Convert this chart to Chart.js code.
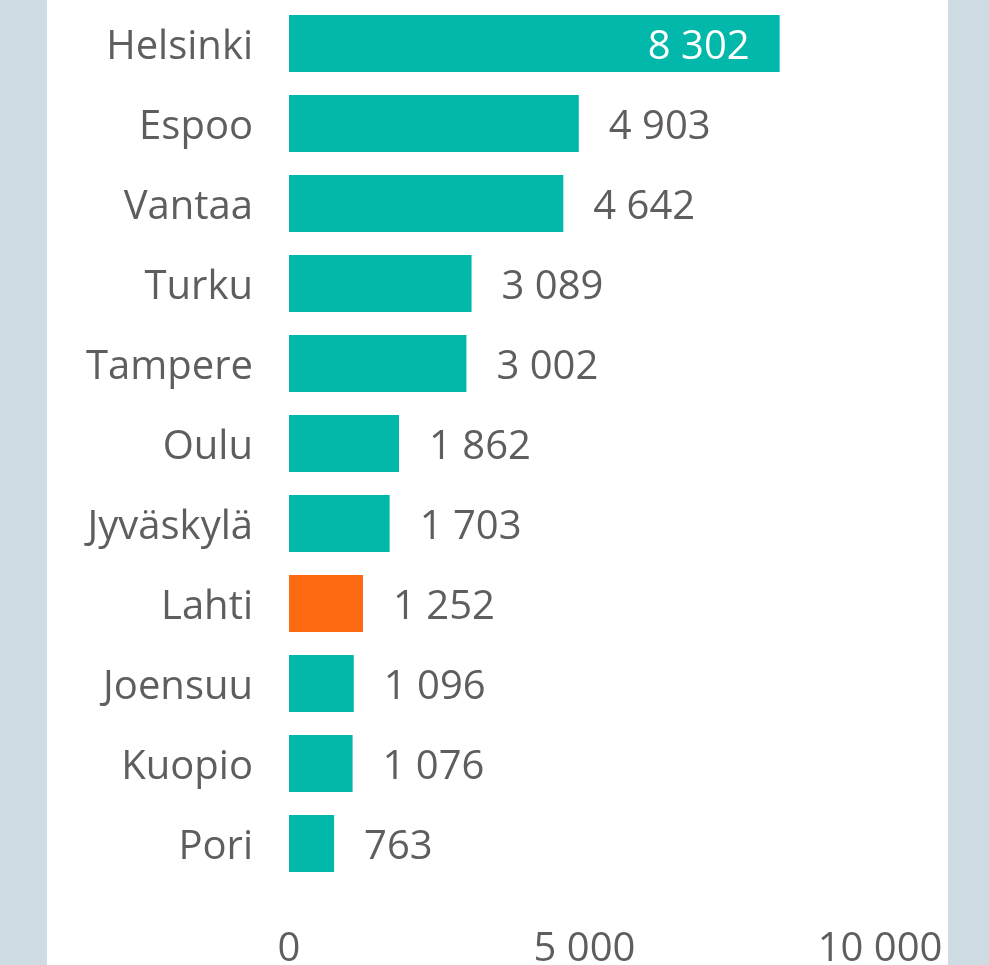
<!DOCTYPE html>
<html>
<head>
<meta charset="utf-8">
<script src="https://cdn.jsdelivr.net/npm/chart.js@4.4.1/dist/chart.umd.min.js"></script>
<style>
  html, body { margin: 0; padding: 0; background: #d0dce3; }
  #panel { position: absolute; left: 47px; top: 0; width: 901px; height: 965px; background: #fff; }
</style>
</head>
<body>
<div id="panel"><canvas id="kaupungit" width="901" height="965"></canvas></div>
<script>
const kaupungit = ['Helsinki', 'Espoo', 'Vantaa', 'Turku', 'Tampere', 'Oulu', 'Jyväskylä', 'Lahti', 'Joensuu', 'Kuopio', 'Pori'];
const arvot = [8302, 4903, 4642, 3089, 3002, 1862, 1703, 1252, 1096, 1076, 763];
const korostettu = 'Lahti';
const xTicks = [0, 5000, 10000];

const TEAL = '#01b8aa';
const ORANGE = '#fd6a12';
const TEXT = '#605e5c';
const FONT = "'Open Sans', sans-serif";
const FONT_SIZE = 40;

// tuhaterotin välilyönnillä
function muotoile(n) {
    return String(n).replace(/\B(?=(\d{3})+(?!\d))/g, ' ');
}

// arvot palkkien päähän
const arvoLabelit = {
    id: 'arvoLabelit',
    afterDatasetsDraw(chart) {
        const ctx = chart.ctx;
        const meta = chart.getDatasetMeta(0);
        ctx.save();
        ctx.font = FONT_SIZE + 'px ' + FONT;
        ctx.textBaseline = 'middle';
        meta.data.forEach((bar, i) => {
            const teksti = muotoile(arvot[i]);
            const w = ctx.measureText(teksti).width;
            if (bar.x + 30 + w > chart.chartArea.right) {
                ctx.fillStyle = '#fff';
                ctx.textAlign = 'right';
                ctx.fillText(teksti, bar.x - 30, bar.y + 4);
            } else {
                ctx.fillStyle = TEXT;
                ctx.textAlign = 'left';
                ctx.fillText(teksti, bar.x + 30, bar.y + 4);
            }
        });
        ctx.restore();
    }
};

// ei automaattista reunatilaa akseleille
function nollaaPadding(s) {
    s.paddingTop = 0;
    s.paddingBottom = 0;
    s.paddingLeft = 0;
    s.paddingRight = 0;
}

new Chart(document.getElementById('kaupungit'), {
    type: 'bar',
    data: {
        labels: kaupungit,
        datasets: [{
            data: arvot,
            backgroundColor: kaupungit.map(k => k === korostettu ? ORANGE : TEAL),
            borderWidth: 0,
            categoryPercentage: 1,
            barPercentage: 0.715
        }]
    },
    options: {
        indexAxis: 'y',
        responsive: false,
        animation: false,
        layout: { padding: { top: 3.5, right: 68, left: 0, bottom: 0 } },
        plugins: { legend: { display: false }, tooltip: { enabled: false } },
        scales: {
            x: {
                min: 0,
                max: 10000,
                afterBuildTicks: s => { s.ticks = xTicks.map(v => ({ value: v })); },
                afterFit: s => { s.height = 81.5; nollaaPadding(s); },
                grid: { display: false, drawTicks: false },
                border: { display: false },
                ticks: {
                    color: TEXT,
                    font: { family: FONT, size: FONT_SIZE },
                    padding: 42,
                    maxRotation: 0,
                    callback: v => muotoile(v)
                }
            },
            y: {
                afterFit: s => { s.width = 242; nollaaPadding(s); },
                grid: { display: false, drawTicks: false },
                border: { display: false },
                ticks: {
                    color: TEXT,
                    font: { family: FONT, size: FONT_SIZE },
                    padding: 36,
                    labelOffset: 4
                }
            }
        }
    },
    plugins: [arvoLabelit]
});
</script>
</body>
</html>
